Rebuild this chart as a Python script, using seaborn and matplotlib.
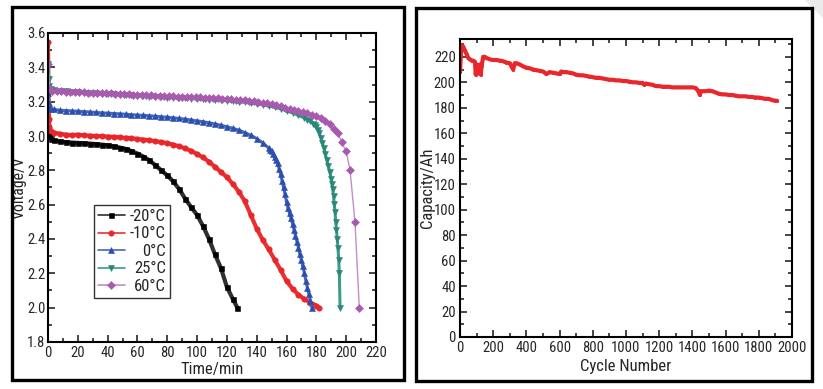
import matplotlib
matplotlib.use("Agg")
import matplotlib.pyplot as plt
from matplotlib import font_manager as fm
from matplotlib.ticker import MultipleLocator, FormatStrFormatter
from matplotlib.patches import Rectangle, Polygon
import seaborn as sns
import pandas as pd

# ---------------- data: left panel (discharge curves) ----------------
t_m20 = [0, 0.5, 1, 2, 4, 8, 12, 16, 20, 24, 28, 32, 36, 40, 44, 48, 52, 56, 60, 64, 68, 72,
         76, 80, 84, 88, 92, 96, 100, 104, 108, 112, 116, 120, 124, 127]
v_m20 = [3.05, 3.02, 3.00, 2.985, 2.975, 2.968, 2.964, 2.962, 2.96, 2.958, 2.956, 2.953, 2.95,
         2.946, 2.94, 2.933, 2.925, 2.912, 2.898, 2.88, 2.858, 2.83, 2.80, 2.77, 2.735, 2.69,
         2.635, 2.585, 2.54, 2.475, 2.40, 2.31, 2.23, 2.12, 2.05, 2.00]

t_m10 = [0, 0.3, 0.6, 1, 2, 4, 8, 12, 16, 20, 24, 28, 32, 36, 40, 44, 48, 52, 56, 60, 64, 68,
         72, 76, 80, 84, 88, 92, 96, 100, 104, 108, 112, 116, 120, 124, 128, 132, 136, 140,
         144, 148, 152, 156, 160, 164, 168, 172, 176, 180, 182]
v_m10 = [3.55, 3.30, 3.10, 3.05, 3.03, 3.02, 3.013, 3.008, 3.005, 3.008, 3.004, 3.002, 3.00,
         2.999, 2.997, 2.995, 2.992, 2.99, 2.987, 2.983, 2.979, 2.975, 2.97, 2.965, 2.958,
         2.95, 2.94, 2.928, 2.913, 2.895, 2.875, 2.85, 2.82, 2.79, 2.76, 2.72, 2.675, 2.62,
         2.54, 2.46, 2.395, 2.34, 2.28, 2.22, 2.155, 2.11, 2.075, 2.05, 2.03, 2.012, 2.00]

t_0 = [0, 0.5, 1, 2, 4, 8, 12, 16, 20, 24, 28, 32, 36, 40, 44, 48, 52, 56, 60, 64, 68, 72, 76,
       80, 84, 88, 92, 96, 100, 104, 108, 112, 116, 120, 124, 128, 132, 136, 140, 144, 148,
       149, 150, 151, 152, 153, 154, 155, 156, 157, 158, 159, 160, 161, 162, 163, 164, 165,
       166, 167, 168, 169, 170, 171, 172, 173, 174, 175, 176, 177]
v_0 = [3.25, 3.19, 3.17, 3.16, 3.155, 3.15, 3.148, 3.146, 3.144, 3.142, 3.14, 3.137, 3.135,
       3.133, 3.131, 3.129, 3.127, 3.124, 3.122, 3.12, 3.118, 3.115, 3.112, 3.109, 3.106,
       3.102, 3.098, 3.093, 3.088, 3.083, 3.077, 3.07, 3.062, 3.054, 3.045, 3.034, 3.02,
       3.004, 2.985, 2.96, 2.93, 2.92, 2.91, 2.895, 2.88, 2.86, 2.84, 2.81, 2.78, 2.74, 2.70,
       2.66, 2.615, 2.58, 2.55, 2.52, 2.49, 2.455, 2.42, 2.385, 2.35, 2.31, 2.275, 2.24,
       2.20, 2.155, 2.115, 2.08, 2.04, 2.00]

t_25 = [0, 0.5, 1, 2, 4, 8, 12, 16, 20, 24, 28, 32, 36, 40, 44, 48, 52, 56, 60, 64, 68, 72,
        76, 80, 84, 88, 92, 96, 100, 104, 108, 112, 116, 120, 124, 128, 132, 136, 140, 144,
        148, 152, 156, 160, 164, 168, 172, 174, 176, 178, 179, 180, 181, 182, 183, 184, 185,
        186, 187, 188, 189, 190, 190.5, 191, 191.5, 192, 192.5, 193, 193.5, 194, 194.5, 195,
        195.4, 195.9]
v_25 = [3.42, 3.33, 3.29, 3.275, 3.27, 3.265, 3.262, 3.259, 3.256, 3.253, 3.25, 3.248, 3.246,
        3.244, 3.242, 3.24, 3.238, 3.236, 3.234, 3.232, 3.23, 3.228, 3.226, 3.224, 3.222,
        3.22, 3.219, 3.218, 3.216, 3.214, 3.212, 3.21, 3.208, 3.205, 3.202, 3.199, 3.196,
        3.192, 3.188, 3.182, 3.176, 3.168, 3.158, 3.147, 3.135, 3.12, 3.105, 3.096, 3.085,
        3.072, 3.062, 3.05, 3.035, 3.015, 2.99, 2.96, 2.93, 2.895, 2.86, 2.825, 2.79, 2.75,
        2.72, 2.69, 2.65, 2.605, 2.56, 2.50, 2.45, 2.40, 2.345, 2.28, 2.20, 2.00]

t_60 = [0, 1, 3, 6, 9, 12, 15, 18, 21, 24, 27, 30, 33, 36, 39, 42, 45, 48, 51, 54, 57, 60, 63,
        66, 69, 72, 75, 78, 81, 84, 87, 90, 93, 96, 99, 102, 105, 108, 111, 114, 117, 120,
        123, 126, 129, 132, 135, 138, 141, 144, 147, 150, 153, 156, 159, 162, 165, 168, 171,
        174, 177, 180, 183, 186, 189, 192, 194.5, 197, 200, 202.6, 205.9, 208.8]
v_60 = [3.42, 3.28, 3.265, 3.262, 3.26, 3.258, 3.257, 3.256, 3.255, 3.254, 3.253, 3.252,
        3.251, 3.25, 3.249, 3.248, 3.246, 3.245, 3.243, 3.242, 3.24, 3.239, 3.238, 3.237,
        3.236, 3.235, 3.234, 3.233, 3.232, 3.231, 3.23, 3.229, 3.228, 3.227, 3.226, 3.225,
        3.223, 3.222, 3.22, 3.219, 3.217, 3.215, 3.213, 3.211, 3.209, 3.207, 3.205, 3.202,
        3.199, 3.195, 3.19, 3.185, 3.178, 3.172, 3.165, 3.16, 3.153, 3.146, 3.139, 3.132,
        3.125, 3.117, 3.105, 3.09, 3.07, 3.04, 3.015, 2.965, 2.91, 2.80, 2.50, 2.00]

series_labels = ["-20°C", "-10°C", "0°C", "25°C", "60°C"]

# ---------------- data: right panel (cycle life) ----------------
cycles = [0, 5, 10, 15, 20, 25, 30, 40, 50, 60, 70, 80, 90, 95, 100, 105, 110, 115, 120, 125,
          130, 140, 150, 160, 180, 200, 220, 240, 260, 280, 300, 320, 330, 340, 360, 380, 400,
          420, 440, 460, 480, 500, 520, 540, 560, 580, 600, 610, 620, 640, 660, 680, 700, 720,
          740, 760, 780, 800, 820, 840, 860, 880, 900, 920, 940, 960, 980, 1000, 1020, 1040,
          1060, 1080, 1100, 1110, 1120, 1140, 1160, 1180, 1200, 1220, 1240, 1260, 1280, 1300,
          1320, 1340, 1360, 1380, 1400, 1420, 1430, 1440, 1445, 1450, 1460, 1480, 1500, 1520,
          1540, 1560, 1580, 1600, 1620, 1640, 1660, 1680, 1700, 1720, 1740, 1760, 1780, 1800,
          1820, 1840, 1860, 1880, 1900, 1910]
capacity = [208, 222, 229, 228, 228, 226, 225, 222, 219, 218, 217, 217, 216, 206, 214, 212,
            207, 213, 214, 206, 213, 220, 220, 219, 218, 217.5, 217.5, 217, 216.5, 215.5, 215,
            210, 215, 215, 214, 212.5, 211.5, 211, 210, 209.5, 209, 208.5, 206.5, 208, 207.5,
            207, 206.5, 208.5, 208, 208, 207.5, 207, 206, 205.5, 205.5, 205, 204.5, 204, 203.5,
            203.5, 203, 202.5, 202, 202, 201.5, 201.5, 201, 201, 200.5, 200, 200, 199.5, 199.5,
            198, 199, 198.5, 198, 197, 197, 196.5, 196.5, 196.5, 196, 196, 196, 196, 196, 196,
            196, 195.5, 194, 192, 190, 193, 193, 193, 193.5, 193, 192, 191, 190.5, 190.5, 190,
            190, 189.5, 189, 189, 189, 188.5, 188.5, 188, 188, 187.5, 187, 187, 186, 185.5,
            185.5]

# ---------------- style ----------------
sns.set_style("ticks")

# pick a condensed sans face if one is installed
entries = fm.fontManager.ttflist
names = {f.name for f in entries}
stretch = "normal"
family = ["Liberation Sans", "DejaVu Sans"]
scale = 0.92
for cand in ["Liberation Sans Narrow", "Arial Narrow", "Roboto Condensed",
             "Open Sans Condensed", "Noto Sans Condensed", "DejaVu Sans Condensed"]:
    if cand in names:
        family = [cand, "DejaVu Sans"]
        scale = 1.0
        break
else:
    for fam in ["Noto Sans", "Open Sans", "DejaVu Sans", "Roboto"]:
        if any(f.name == fam and str(f.stretch) in ("condensed", "semi-condensed",
                                                     "extra-condensed", "75", "62.5")
               for f in entries):
            family = [fam, "DejaVu Sans"]
            stretch = "condensed"
            scale = 1.0
            break
plt.rcParams["font.family"] = family
plt.rcParams["font.stretch"] = stretch
plt.rcParams["axes.linewidth"] = 1.5

TICK = 10.5 * scale
LAB = 12 * scale
LEGF = 12 * scale

fig = plt.figure(figsize=(8.23, 3.89), dpi=100)
W, H = 823, 389


def px_axes(x0, y0, x1, y1):
    return fig.add_axes([x0 / W, 1 - y1 / H, (x1 - x0) / W, (y1 - y0) / H])


# faint page-fold corner
fig.patches.append(Polygon([(805 / W, 1.0), (1.0, 1.0), (1.0, 1 - 18 / H)], closed=True,
                           transform=fig.transFigure, facecolor="#ebebeb",
                           edgecolor="none", zorder=0))

# outer panel frames
for (x0, y0, x1, y1) in [(12, 7, 404, 380), (416, 8, 812, 381)]:
    fig.patches.append(Rectangle((x0 / W, 1 - y1 / H), (x1 - x0) / W, (y1 - y0) / H,
                                 transform=fig.transFigure, fill=False,
                                 edgecolor="black", linewidth=2.4, zorder=1))

ax1 = px_axes(48, 33, 376, 342)
ax2 = px_axes(460, 39, 792, 337)

line_cols = ["#303030", "#ec3030", "#4568bb", "#3f9a8b", "#c48cc8"]
mark_cols = ["#000000", "#e8262b", "#2b4fae", "#2a8878", "#a85aaf"]
markers = ["s", "o", "^", "v", "D"]
msizes = [3.6, 3.9, 4.4, 4.4, 4.0]
lws = [3.0, 3.0, 2.2, 2.2, 1.0]
ts = [t_m20, t_m10, t_0, t_25, t_60]
vs = [v_m20, v_m10, v_0, v_25, v_60]

for t, v, lab, lc, mc, mk, ms, lw in zip(ts, vs, series_labels, line_cols, mark_cols,
                                         markers, msizes, lws):
    df = pd.DataFrame({"t": t, "v": v})
    sns.lineplot(data=df, x="t", y="v", ax=ax1, sort=False, errorbar=None, label=lab,
                 color=lc, linewidth=lw, marker=mk, markersize=ms, markerfacecolor=mc,
                 markeredgecolor=mc, markeredgewidth=0.4)

ax1.set_xlim(0, 220)
ax1.set_ylim(1.8, 3.6)
ax1.xaxis.set_major_locator(MultipleLocator(20))
ax1.xaxis.set_minor_locator(MultipleLocator(10))
ax1.yaxis.set_major_locator(MultipleLocator(0.2))
ax1.yaxis.set_minor_locator(MultipleLocator(0.1))
ax1.yaxis.set_major_formatter(FormatStrFormatter("%.1f"))
ax1.set_xlabel("Time/min", fontsize=LAB, labelpad=1)
ax1.set_ylabel("Voltage/V", fontsize=LAB * 0.95, labelpad=0.2)

leg = ax1.legend(loc="lower left", bbox_to_anchor=(0.14, 0.142), fontsize=LEGF,
                 frameon=True, fancybox=False, edgecolor="#333333", framealpha=1,
                 handlelength=1.6, handletextpad=0.3, labelspacing=0.15,
                 borderpad=0.25, borderaxespad=0)
leg.get_frame().set_linewidth(1.0)
for h in leg.legend_handles:
    h.set_linewidth(1.2)

sns.lineplot(x=cycles, y=capacity, ax=ax2, sort=False, errorbar=None, color="#e8262b",
             linewidth=3.0, marker="o", markersize=2.2, markeredgewidth=0)
ax2.set_xlim(0, 2000)
ax2.set_ylim(0, 234)
ax2.xaxis.set_major_locator(MultipleLocator(200))
ax2.xaxis.set_minor_locator(MultipleLocator(100))
ax2.yaxis.set_major_locator(MultipleLocator(20))
ax2.yaxis.set_minor_locator(MultipleLocator(10))
ax2.set_xlabel("Cycle Number", fontsize=LAB, labelpad=3)
ax2.set_ylabel("Capacity/Ah", fontsize=LAB, labelpad=-1.2)

for ax in (ax1, ax2):
    ax.tick_params(which="both", direction="in", top=True, right=True, width=1.2,
                   labelsize=TICK, pad=3)
    ax.tick_params(which="major", length=5)
    ax.tick_params(which="minor", length=3)
    for s in ax.spines.values():
        s.set_linewidth(1.5)
        s.set_color("black")
ax1.tick_params(axis="y", which="both", pad=1.8)

# right-align legend labels (as in the reference)
fig.canvas.draw()
renderer = fig.canvas.get_renderer()
widths = [tx.get_window_extent(renderer).width for tx in leg.get_texts()]
mw = max(widths)
for tx, w in zip(leg.get_texts(), widths):
    tx.set_position((mw - w, 0))

fig.savefig("out.png", dpi=100)
